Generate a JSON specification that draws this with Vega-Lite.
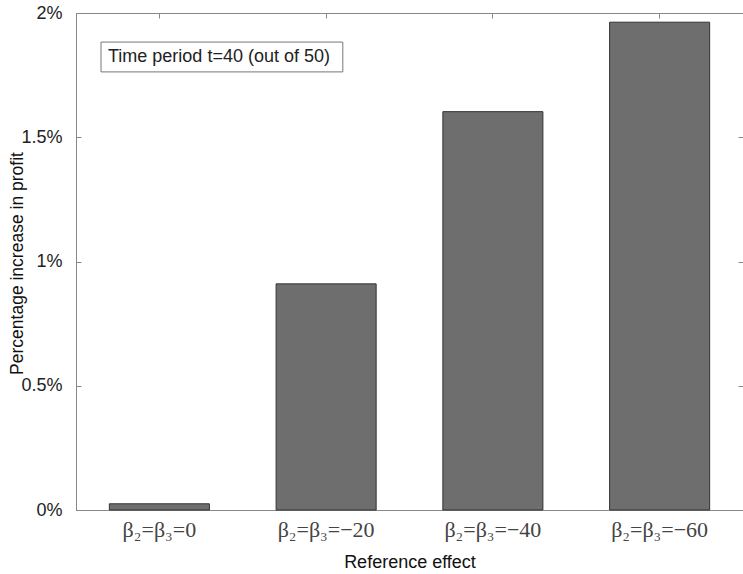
{
  "$schema": "https://vega.github.io/schema/vega-lite/v6.json",
  "width": 667,
  "height": 497,
  "autosize": {"type": "none"},
  "padding": {"left": 76, "top": 13, "right": 0, "bottom": 64},
  "background": "white",
  "config": {
    "view": {"stroke": "#888", "strokeWidth": 1},
    "axis": {"grid": false, "domainColor": "#888", "tickColor": "#888", "labelFont": "Liberation Sans", "titleFont": "Liberation Sans", "labelColor": "#222", "titleColor": "#111", "titleFontWeight": "normal"}
  },
  "data": {
    "values": [
      {"label": "β₂=β₃=0", "value": 0.025},
      {"label": "β₂=β₃=−20", "value": 0.91},
      {"label": "β₂=β₃=−40", "value": 1.603},
      {"label": "β₂=β₃=−60", "value": 1.963}
    ]
  },
  "layer": [
    {
      "mark": {"type": "bar", "fill": "#6e6e6e", "stroke": "#333", "strokeWidth": 1},
      "encoding": {
        "x": {
          "field": "label", "type": "nominal", "sort": null,
          "scale": {"paddingInner": 0.4, "paddingOuter": 0.2},
          "axis": {"orient": "bottom", "title": "Reference effect", "labelAngle": 0, "labelFont": "Liberation Serif", "labelFontSize": 22, "labelColor": "#444", "tickSize": -5, "labelPadding": 14, "titleFontSize": 18, "titleBaseline": "middle", "titleY": 52, "domain": true}
        },
        "y": {
          "field": "value", "type": "quantitative",
          "scale": {"domain": [0, 2], "nice": false},
          "axis": {"orient": "left", "title": "Percentage increase in profit", "values": [0, 0.5, 1, 1.5, 2], "labelExpr": "datum.value + '%'", "labelFontSize": 18, "tickSize": -5, "labelPadding": 19, "titleFontSize": 17.5, "titleBaseline": "middle", "titleX": -59, "titleY": 250, "domain": true}
        }
      }
    },
    {
      "mark": {"type": "bar", "opacity": 0},
      "encoding": {
        "x": {
          "field": "label", "type": "nominal", "sort": null,
          "scale": {"paddingInner": 0.4, "paddingOuter": 0.2},
          "axis": {"orient": "top", "title": null, "labels": false, "domain": false, "tickSize": -5}
        },
        "y": {
          "field": "value", "type": "quantitative",
          "axis": {"orient": "right", "title": null, "labels": false, "domain": false, "values": [0, 0.5, 1, 1.5, 2], "tickSize": -5}
        }
      }
    },
    {
      "data": {"values": [{"note": "Time period t=40 (out of 50)"}]},
      "mark": {"type": "rect", "fill": "white", "stroke": "#777", "strokeWidth": 1},
      "encoding": {
        "x": {"datum": 0.65, "type": "quantitative", "scale": {"domain": [0.5, 4.5], "nice": false, "zero": false}, "axis": null},
        "x2": {"datum": 2.1},
        "y": {"datum": 1.883, "type": "quantitative", "axis": null},
        "y2": {"datum": 1.763}
      }
    },
    {
      "data": {"values": [{"note": "Time period t=40 (out of 50)"}]},
      "mark": {"type": "text", "align": "left", "baseline": "middle", "font": "Liberation Sans", "fontSize": 18, "color": "#222"},
      "encoding": {
        "x": {"datum": 0.692, "type": "quantitative", "scale": {"domain": [0.5, 4.5], "nice": false, "zero": false}, "axis": null},
        "y": {"datum": 1.823, "type": "quantitative", "axis": null},
        "text": {"field": "note"}
      }
    }
  ],
  "resolve": {"scale": {"x": "independent", "y": "shared"}, "axis": {"x": "independent", "y": "independent"}}
}
